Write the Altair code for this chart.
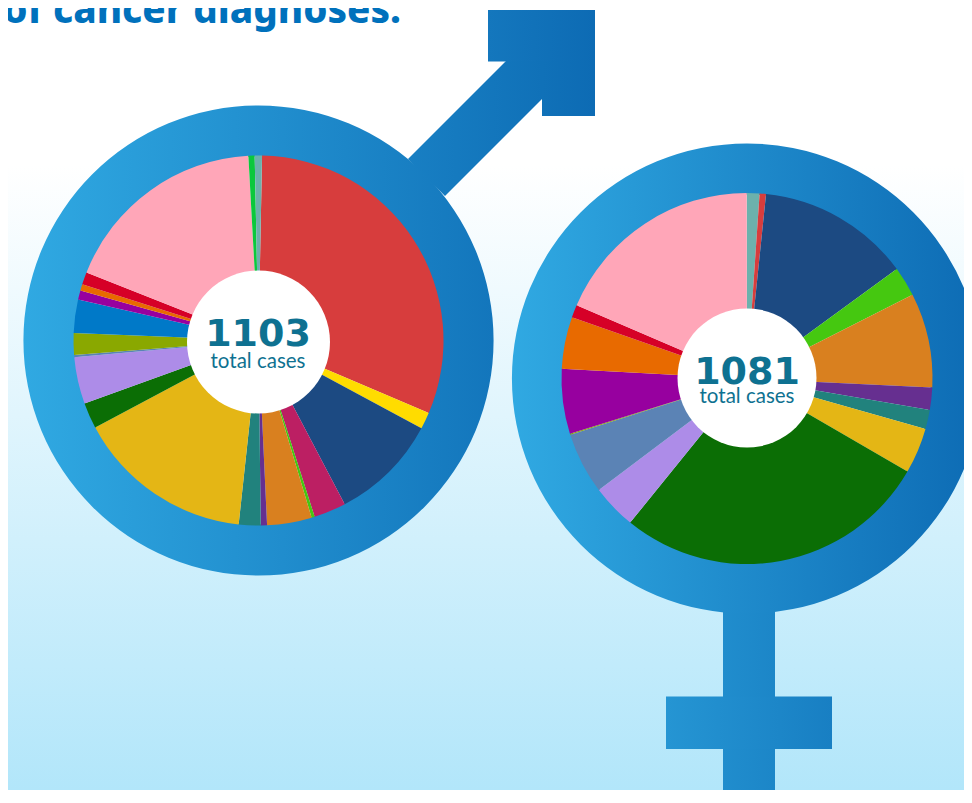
import math
import altair as alt
import pandas as pd

# --- values (cases per slice, clockwise) ---
male_cases = [343, 16, 104, 31, 3, 43, 6, 21, 171, 25, 45, 2, 21, 32, 9, 6, 12, 200, 6, 7]
male_colors = ["#D73D3D", "#FFDC00", "#1C4A82", "#BC1F63", "#45C810", "#D9801F", "#662F90", "#21827D",
               "#E4B615", "#0B6E05", "#AD8CE8", "#5B83B5", "#8AA800", "#0079C8", "#97009F", "#E86A00",
               "#D60027", "#FFA6B8", "#0BC83C", "#6CB1AC"]
female_cases = [12, 6, 144, 28, 89, 21, 18, 43, 297, 42, 58, 1, 61, 49, 12, 200]
female_colors = ["#6CB1AC", "#D73D3D", "#1C4A82", "#45C810", "#D9801F", "#662F90", "#21827D", "#E4B615",
                 "#0B6E05", "#AD8CE8", "#5B83B5", "#8AA800", "#97009F", "#E86A00", "#D60027", "#FFA6B8"]
totals = [1103, 1081]
caption = "total cases"
title_text = "of cancer diagnoses."

# reference-pixel positions of the drawing
W, H, M = 972, 803, 8
CW, CH = W - 2 * M, H - 2 * M - 5
xs = alt.Scale(domain=[M, M + CW], range=[0, CW], nice=False, zero=False)
ys = alt.Scale(domain=[M, M + CH], range=[0, CH], nice=False, zero=False)
LEFT, RIGHT = "#30A9E2", "#0D6BB4"


def mix(t):
    a = [int(LEFT[i:i + 2], 16) for i in (1, 3, 5)]
    b = [int(RIGHT[i:i + 2], 16) for i in (1, 3, 5)]
    return "#%02x%02x%02x" % tuple(round(p + (q - p) * t) for p, q in zip(a, b))


def grad(x0, x1, g0, g1):
    t0, t1 = (x0 - g0) / (g1 - g0), (x1 - g0) / (g1 - g0)
    return alt.Gradient(gradient="linear", x1=0, x2=1, y1=0, y2=0,
                        stops=[alt.GradientStop(offset=0, color=mix(t0)),
                               alt.GradientStop(offset=1, color=mix(t1))])


def X(f="x"):
    return alt.X(f"{f}:Q", scale=xs, axis=None)


def Y(f="y"):
    return alt.Y(f"{f}:Q", scale=ys, axis=None)


def rect(x0, x1, y0, y1, fill):
    d = pd.DataFrame({"x": [x0], "x2": [x1], "y": [y0], "y2": [y1]})
    return alt.Chart(d).mark_rect(fill=fill).encode(
        x=X(), x2=alt.X2("x2:Q"), y=Y(), y2=alt.Y2("y2:Q"))


def pie(cx, cy, r_in, r_out, cases, colors, start_deg):
    total = sum(cases)
    a0 = math.radians(start_deg)
    s, e, run = [], [], 0
    for c in cases:
        s.append(a0 + 2 * math.pi * run / total)
        run += c
        e.append(a0 + 2 * math.pi * run / total)
    d = pd.DataFrame({"start": s, "end": e, "cases": cases, "color": colors, "x": cx, "y": cy})
    return alt.Chart(d).mark_arc(innerRadius=r_in, outerRadius=r_out).encode(
        x=X(), y=Y(),
        theta=alt.Theta("start:Q", scale=None),
        theta2=alt.Theta2("end:Q"),
        fill=alt.Fill("color:N", scale=None),
    )


def ring(cx, cy, g0, g1):
    d = pd.DataFrame({"x": [cx], "y": [cy]})
    return alt.Chart(d).mark_arc(innerRadius=184, outerRadius=235, theta=0, theta2=2 * math.pi,
                                 fill=grad(cx - 235, cx + 235, g0, g1)).encode(x=X(), y=Y())


def hole(cx, cy, r):
    d = pd.DataFrame({"x": [cx], "y": [cy]})
    return alt.Chart(d).mark_circle(size=4 * r * r, fill="white", opacity=1).encode(x=X(), y=Y())


def label(x, y, text, size, weight, color="#0E7191", font="Lato", align="center"):
    d = pd.DataFrame({"x": [x], "y": [y], "t": [text]})
    return alt.Chart(d).mark_text(font=font, fontSize=size, fontWeight=weight, color=color,
                                  align=align, baseline="alphabetic").encode(x=X(), y=Y(), text="t:N")


# background
bg_grad = alt.Gradient(gradient="linear", x1=0, x2=0, y1=0, y2=1,
                       stops=[alt.GradientStop(offset=0, color="#ffffff"),
                              alt.GradientStop(offset=0.2, color="#ffffff"),
                              alt.GradientStop(offset=1, color="#B2E6FA")])
background = rect(M, M + CW, M, M + CH, bg_grad)

# male symbol
M0, M1 = 24, 595
stem = pd.DataFrame({"x": [408, 445, 542], "y": [159, 122, 25], "y2": [159, 196, 99]})
male_stem = alt.Chart(stem).mark_area(fill=grad(408, 542, M0, M1), interpolate="linear").encode(
    x=X(), y=Y(), y2=alt.Y2("y2:Q"))
male_layers = [
    male_stem,
    rect(488, 595, 10, 61.5, grad(488, 595, M0, M1)),
    rect(542, 595, 61, 116, grad(542, 595, M0, M1)),
    ring(258.5, 340.5, M0, M1),
    pie(258.5, 340.5, 60, 185, male_cases, male_colors, 1.1),
    hole(258.5, 342, 71.5),
    label(258, 346, str(totals[0]), 38, 700, font="DejaVu Sans"),
    label(258, 368, caption, 20.5, 400),
]

# female symbol
F0, F1 = 512, 982
female_layers = [
    rect(723, 775, 600, M + CH, grad(723, 775, F0, F1)),
    rect(666, 832, 696.5, 749, grad(666, 832, F0, F1)),
    ring(747, 378.5, F0, F1),
    pie(747, 378.5, 60, 185.5, female_cases, female_colors, -0.1),
    hole(747, 378, 69.5),
    label(747, 384, str(totals[1]), 38, 700, font="DejaVu Sans"),
    label(747, 403, caption, 20.5, 400),
]

title = label(401, 23, title_text, 38.5, 800, color="#0071BC", font="Noto Sans", align="right")

chart = alt.layer(background, title, *male_layers, *female_layers).properties(
    width=CW, height=CH, padding=0, autosize=alt.AutoSizeParams(type="none"),
    background="#ffffff",
).configure_view(stroke=None)

chart.save("out.html", embed_options={"renderer": "svg", "actions": False})
